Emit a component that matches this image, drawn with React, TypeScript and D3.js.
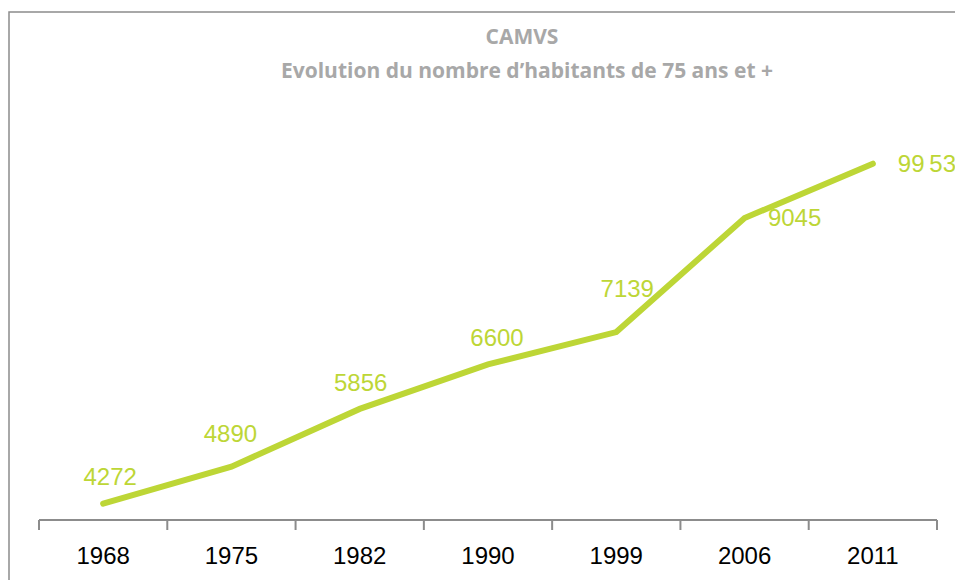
import React from "react";
import * as d3 from "d3";

const years = ["1968", "1975", "1982", "1990", "1999", "2006", "2011"];
const values = [4272, 4890, 5856, 6600, 7139, 9045, 9953];
const valueLabels = ["4272", "4890", "5856", "6600", "7139", "9045", "99\u200953"];
const titleLines = ["CAMVS", "Evolution du nombre d\u2019habitants de 75 ans et +"];

// label placement offsets (dx, dy of label center relative to point)
const labelOffsets: [number, number][] = [
  [7, -27],
  [-1, -33],
  [1, -26],
  [9, -27],
  [11, -44],
  [50, 0],
  [53, 0],
];

export default function App() {
  const W = 955;
  const H = 580;
  const left = 39;
  const right = 937;
  const axisY = 520;

  const x = d3.scaleBand<string>().domain(years).range([left, right]).padding(0);
  const y = d3.scaleLinear().domain([4000, 11000]).range([axisY, 101]);

  const pts = years.map((yr, i) => [x(yr)! + x.bandwidth() / 2, y(values[i])] as [number, number]);
  const line = d3.line()(pts) || "";

  const green = "#bdd636";
  const tickXs = [...years.map((yr) => x(yr)!), right];

  return (
    <svg
      width={W}
      height={H}
      style={{ position: "absolute", left: 0, top: 0, background: "#fff" }}
    >
      <rect x={9} y={12} width={W} height={H} fill="#fff" stroke="#8c8c8c" strokeWidth={1.5} />
      <text
        x={522}
        y={44}
        textAnchor="middle"
        fontFamily="'Open Sans', sans-serif"
        fontWeight="bold"
        fontSize={21}
        fill="#a8a8a8"
      >
        {titleLines[0]}
      </text>
      <text
        x={527}
        y={78}
        textAnchor="middle"
        fontFamily="'Open Sans', sans-serif"
        fontWeight="bold"
        fontSize={21}
        fill="#a8a8a8"
      >
        {titleLines[1]}
      </text>

      <line x1={left} x2={right} y1={axisY} y2={axisY} stroke="#8c8c8c" strokeWidth={2} />
      {tickXs.map((tx, i) => (
        <line key={i} x1={tx} x2={tx} y1={axisY} y2={axisY + 10} stroke="#8c8c8c" strokeWidth={2} />
      ))}
      {years.map((yr) => (
        <text
          key={yr}
          x={x(yr)! + x.bandwidth() / 2}
          y={564}
          textAnchor="middle"
          fontFamily="'Liberation Sans', sans-serif"
          fontSize={24}
          fill="#000"
        >
          {yr}
        </text>
      ))}

      <path d={line} fill="none" stroke={green} strokeWidth={6} strokeLinecap="round" strokeLinejoin="miter" />

      {pts.map((p, i) => (
        <text
          key={i}
          x={p[0] + labelOffsets[i][0]}
          y={p[1] + labelOffsets[i][1]}
          dy="0.35em"
          textAnchor={i === 6 ? "start" : "middle"}
          dx={i === 6 ? -28 : 0}
          fontFamily="'Liberation Sans', sans-serif"
          fontSize={24}
          fill={green}
        >
          {valueLabels[i]}
        </text>
      ))}
    </svg>
  );
}
